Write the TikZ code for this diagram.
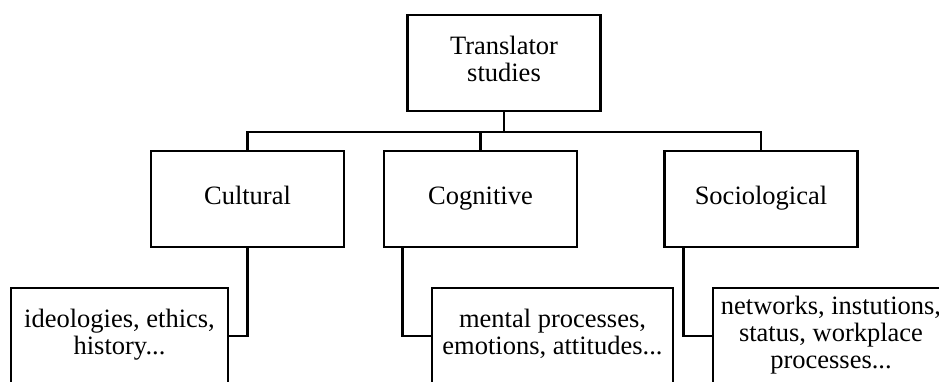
\documentclass[tikz,border=0pt]{standalone}
\usepackage{fontspec}
\setmainfont{Liberation Serif}
\usepackage{tikz}

\tikzset{
	box/.style={draw, line width=1.4pt, fill=white, inner sep=0pt, align=center,
		minimum width=96.5pt, minimum height=48pt,
		execute at begin node=\strut, execute at end node=\strut},
	leafbox/.style={box, minimum width=#1},
	link/.style={line width=1.4pt}
}

\begin{document}
\begin{tikzpicture}[x=0.5pt, y=-0.5pt, font=\fontsize{13.25}{13.5}\selectfont]
		\useasboundingbox (0,0) rectangle (939,381);
		\clip (0,0) rectangle (939,381);
		\fill[white] (0,0) rectangle (939,381);
		\node[box] (top) at (504,63) {Translator\\ studies};
		\node[box] (cultural) at (247.5,199) {Cultural};
		\node[box] (cognitive) at (480.5,199) {Cognitive};
		\node[box] (sociological) at (761,199) {Sociological};
		\node[leafbox=108.5pt] (ideol) at (119.5,336) {ideologies, ethics,\\ history...};
		\node[leafbox=120.5pt] (mental) at (552.5,336) {mental processes,\\ emotions, attitudes...};
		\node[leafbox=118pt] (network) at (831,336) {networks, instutions,\\ status, workplace\\ processes...};
		\coordinate (bar) at (504,132);
		\draw [link] (top.south)--(bar);
		\draw [link] (cultural.north) |- (bar) -| (sociological.north);
		\draw [link] (cognitive.north)--(cognitive.north |- bar);
		\draw [link] (cultural.south) |- (ideol.east);
		\draw [link] ([xshift=10pt]cognitive.south west) |- (mental.west);
		\draw [link] ([xshift=10pt]sociological.south west) |- (network.west);
	\end{tikzpicture}
\end{document}
